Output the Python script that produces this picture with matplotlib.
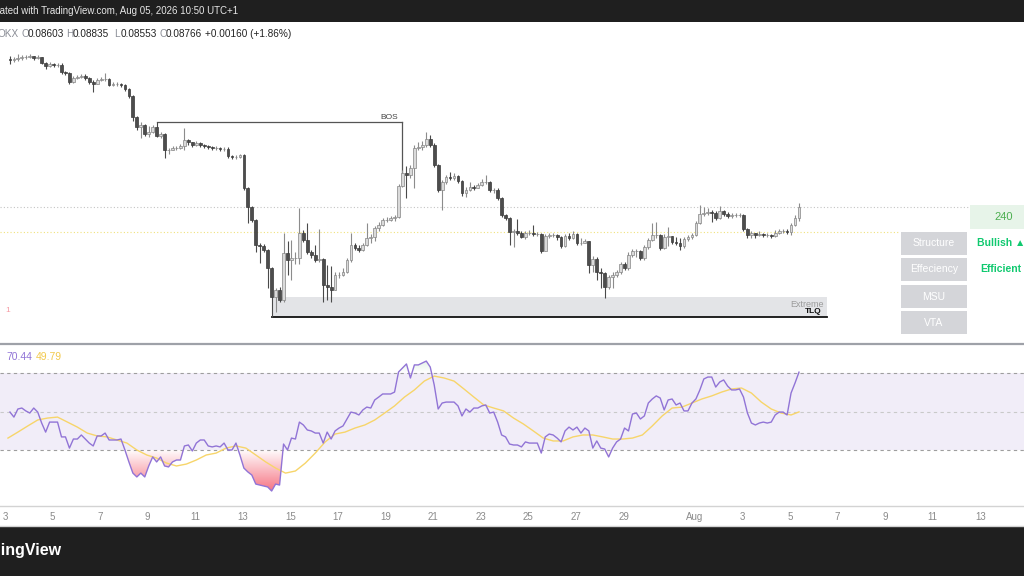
import numpy as np
import matplotlib
matplotlib.use("Agg")
import matplotlib.pyplot as plt
import matplotlib.dates as mdates
from matplotlib.patches import Rectangle
from matplotlib.lines import Line2D
from matplotlib.path import Path
from datetime import datetime, timedelta

plt.rcParams["font.family"] = ["Liberation Sans", "DejaVu Sans"]

W, H = 1024, 576

LAST_BAR = datetime(2026, 8, 5, 9, 0)
BAR = timedelta(hours=4)

# 4h candles, prices in 1e-5 units
FIRST_OPEN = 11142
CLOSE = [11126, 11142, 11158, 11174, 11174, 11190, 11158, 11174, 11078, 11030,
         11062, 11046, 11046, 10934, 10918, 10774, 10838, 10854, 10870, 10838,
         10774, 10742, 10806, 10822, 10822, 10726, 10742, 10742, 10726, 10662,
         10550, 10214, 10054, 10086, 9942, 9974, 10054, 9910, 9942, 9686,
         9686, 9718, 9718, 9750, 9846, 9814, 9766, 9798, 9766, 9750,
         9734, 9718, 9718, 9702, 9702, 9590, 9574, 9574, 9606, 9078,
         8774, 8566, 8166, 8150, 8086, 7798, 7334, 7446, 7286, 8038,
         7926, 7958, 7958, 8358, 8246, 8054, 8006, 7926, 7942, 7526,
         7494, 7446, 7686, 7686, 7734, 7926, 8166, 8118, 8086, 8166,
         8278, 8294, 8438, 8486, 8566, 8566, 8598, 8614, 9110, 9318,
         9286, 9398, 9718, 9734, 9766, 9862, 9766, 9446, 9046, 9174,
         9254, 9238, 9270, 9190, 8998, 9046, 9094, 9078, 9126, 9174,
         9174, 9046, 9046, 8918, 8646, 8598, 8374, 8390, 8358, 8294,
         8358, 8358, 8342, 8342, 8070, 8310, 8326, 8326, 8294, 8150,
         8310, 8278, 8342, 8198, 8198, 8230, 7846, 7942, 7734, 7718,
         7494, 7654, 7686, 7734, 7862, 7798, 8006, 8070, 8070, 7958,
         8134, 8246, 8326, 8326, 8118, 8294, 8310, 8214, 8198, 8150,
         8262, 8294, 8326, 8518, 8662, 8678, 8694, 8678, 8598, 8710,
         8662, 8630, 8646, 8646, 8646, 8422, 8326, 8358, 8326, 8342,
         8326, 8326, 8310, 8358, 8390, 8390, 8374, 8486, 8603, 8766]
HIGH = [11190, 11174, 11222, 11206, 11206, 11222, 11190, 11206, 11174, 11094,
        11094, 11078, 11078, 11078, 10950, 10934, 10870, 10886, 10902, 10902,
        10854, 10806, 10838, 10854, 10918, 10838, 10774, 10774, 10758, 10742,
        10678, 10566, 10230, 10134, 10102, 10070, 10086, 10134, 9974, 9958,
        9718, 9750, 9750, 9782, 10038, 9862, 9814, 9830, 9814, 9782,
        9766, 9750, 9750, 9734, 9734, 9734, 9606, 9606, 9622, 9622,
        9094, 8790, 8582, 8198, 8182, 8102, 7814, 7478, 7494, 8358,
        8230, 8246, 8054, 8758, 8406, 8518, 8086, 8166, 8422, 7958,
        7846, 7830, 7734, 7734, 7798, 7958, 8358, 8198, 8166, 8198,
        8518, 8342, 8470, 8534, 8598, 8614, 8630, 8646, 9142, 9366,
        9430, 9446, 9766, 9814, 9830, 9974, 9926, 9798, 9462, 9206,
        9286, 9334, 9318, 9286, 9206, 9094, 9174, 9126, 9158, 9222,
        9286, 9190, 9078, 9078, 8934, 8662, 8614, 8422, 8582, 8390,
        8390, 8406, 8486, 8374, 8358, 8342, 8358, 8358, 8342, 8310,
        8342, 8358, 8390, 8358, 8278, 8262, 8230, 7990, 7974, 7798,
        7734, 7686, 7734, 7766, 7894, 7894, 8054, 8102, 8102, 8086,
        8166, 8278, 8518, 8534, 8342, 8342, 8454, 8310, 8294, 8278,
        8294, 8326, 8358, 8550, 8806, 8774, 8758, 8726, 8710, 8790,
        8726, 8694, 8678, 8678, 8678, 8662, 8438, 8390, 8358, 8390,
        8358, 8358, 8342, 8406, 8422, 8422, 8422, 8518, 8646, 8835]
LOW = [11062, 11094, 11110, 11126, 11142, 11158, 11126, 11142, 11062, 10982,
       11014, 11014, 11014, 10902, 10886, 10742, 10758, 10822, 10838, 10806,
       10742, 10614, 10742, 10790, 10790, 10710, 10710, 10710, 10694, 10630,
       10518, 10150, 10006, 9878, 9910, 9894, 9958, 9894, 9878, 9558,
       9622, 9686, 9686, 9702, 9686, 9766, 9734, 9750, 9734, 9718,
       9702, 9686, 9686, 9670, 9670, 9558, 9542, 9542, 9558, 9046,
       8518, 8534, 8054, 7878, 8054, 7478, 7014, 7094, 7254, 7254,
       7686, 7606, 7862, 7862, 8214, 8022, 7958, 7894, 7894, 7254,
       7286, 7254, 7446, 7638, 7670, 7718, 7894, 8086, 8054, 8070,
       8150, 8198, 8230, 8390, 8470, 8534, 8550, 8550, 8598, 9094,
       8918, 9238, 9078, 9686, 9686, 9734, 9734, 9414, 9014, 8726,
       9142, 9206, 9206, 9158, 8950, 8934, 9030, 9046, 9078, 9110,
       9142, 9014, 8998, 8886, 8614, 8566, 8166, 8134, 8326, 8278,
       8262, 8326, 8310, 8310, 8038, 8086, 8278, 8294, 8246, 8118,
       8134, 8246, 8262, 8166, 8166, 8198, 7718, 7734, 7606, 7478,
       7318, 7462, 7478, 7654, 7702, 7766, 7766, 7974, 7974, 7926,
       7926, 8102, 8230, 8278, 8086, 8102, 8150, 8182, 8166, 8086,
       8118, 8230, 8262, 8310, 8502, 8630, 8646, 8534, 8566, 8582,
       8630, 8598, 8598, 8614, 8614, 8390, 8278, 8278, 8278, 8310,
       8294, 8294, 8278, 8294, 8342, 8358, 8342, 8326, 8470, 8553]

RSI = [49.7, 47.1, 51.3, 51.8, 50.3, 49.2, 51.8, 49.7, 44.0, 39.3,
       44.5, 44.5, 44.5, 36.8, 36.8, 31.0, 35.7, 35.7, 37.8, 35.7,
       33.6, 32.1, 37.3, 37.3, 38.8, 35.2, 35.2, 35.2, 35.7, 30.0,
       23.8, 18.0, 16.0, 18.0, 16.0, 21.7, 26.4, 23.8, 26.4, 21.7,
       21.2, 23.8, 24.8, 24.8, 32.1, 32.6, 29.5, 33.6, 35.2, 35.2,
       32.1, 31.6, 32.1, 31.6, 33.6, 30.0, 30.0, 33.6, 27.4, 20.6,
       18.6, 17.0, 12.3, 11.8, 11.3, 10.8, 8.7, 12.3, 11.8, 33.1,
       30.0, 36.2, 35.7, 44.5, 43.0, 40.4, 39.9, 38.8, 38.8, 33.6,
       39.3, 35.7, 39.9, 41.4, 42.5, 46.1, 49.7, 49.2, 48.2, 50.8,
       52.3, 51.8, 56.0, 57.5, 59.1, 59.1, 59.1, 60.1, 70.5, 72.6,
       74.7, 67.4, 74.2, 74.2, 75.2, 76.2, 73.1, 63.8, 51.3, 54.4,
       54.9, 54.9, 54.9, 52.9, 47.7, 51.3, 49.7, 51.8, 51.8, 52.9,
       53.4, 49.2, 49.7, 44.5, 37.8, 36.8, 33.1, 32.6, 32.6, 31.6,
       34.2, 33.6, 33.6, 33.6, 28.4, 36.8, 38.3, 37.8, 36.2, 34.2,
       39.9, 41.9, 40.4, 41.9, 38.8, 41.4, 39.9, 31.0, 34.7, 31.0,
       30.5, 26.4, 31.0, 34.2, 35.7, 41.4, 39.9, 48.7, 49.2, 46.1,
       47.7, 54.4, 56.5, 58.1, 57.0, 50.8, 56.0, 56.5, 53.4, 54.4,
       50.3, 50.3, 54.4, 56.5, 61.2, 66.9, 67.9, 67.9, 62.7, 65.3,
       66.4, 63.2, 61.2, 61.2, 61.7, 57.5, 49.2, 44.0, 43.0, 44.0,
       44.5, 44.0, 44.5, 48.2, 49.7, 49.7, 48.2, 59.6, 64.8, 70.44]

# RSI moving average, read every 2.5 bars (bar positions below)
RSI_MA_POS = list(np.arange(80) * 2.5 - 0.5) + [199]
RSI_MA = [36.2, 39.3, 42.5, 45.6, 46.6, 47.1, 44.5, 41.9, 38.8, 37.3,
          36.8, 35.2, 33.6, 30.0, 27.4, 25.8, 23.2, 21.7, 22.7, 24.8,
          27.4, 28.4, 31.0, 32.1, 31.0, 27.4, 23.8, 20.6, 18.0, 19.1,
          23.2, 28.4, 34.2, 38.3, 39.3, 41.4, 43.0, 45.6, 49.2, 52.9,
          57.5, 61.2, 65.8, 68.4, 67.4, 65.8, 61.7, 57.5, 53.4, 51.8,
          50.3, 46.6, 43.5, 39.9, 36.2, 34.7, 34.7, 36.8, 37.8, 37.8,
          36.8, 35.7, 35.7, 36.2, 37.8, 42.5, 47.7, 51.8, 52.3, 54.4,
          56.5, 58.1, 60.1, 61.7, 62.2, 59.6, 54.9, 51.3, 49.2, 48.2,
          49.79]

# annotations (bar index / price in 1e-5)
BOS_FROM, BOS_TO, BOS_LEVEL, BOS_DROP = 37, 99, 10134, 9206
EXT_FROM, EXT_BARS_AFTER, EXT_TOP, EXT_BOTTOM = 66, 7, 7334, 7014
LEVEL_GRAY, LEVEL_YELLOW = 8774, 8374
CHANGE, CHANGE_PCT = 0.00160, 1.86

TABLE_ROWS = ["Structure", "Effeciency", "MSU", "VTA"]
TABLE_VALUES = ["Bullish \u25B2", "Efficient", "", ""]
TIMEFRAME = "240"

X_TICKS = [datetime(2026, 7, d) for d in range(3, 30, 2)] + \
          [datetime(2026, 8, 1)] + [datetime(2026, 8, d) for d in range(3, 14, 2)]
X_LABELS = [str(d.day) if d.day != 1 else "Aug" for d in X_TICKS]


def fy(y):
    return 1 - y / H


def fx(x):
    return x / W


def bar_time(i):
    return mdates.date2num(LAST_BAR - (len(CLOSE) - 1 - i) * BAR)


def gradient_fill(ax, x, y, level, below, rgb, amax, lo, hi):
    if below:
        coll = ax.fill_between(x, y, level, where=y <= level, interpolate=True,
                               facecolor="none", edgecolor="none")
    else:
        coll = ax.fill_between(x, y, level, where=y >= level, interpolate=True,
                               facecolor="none", edgecolor="none")
    paths = [p for p in coll.get_paths() if len(p.vertices)]
    if not paths:
        return
    clip = Path.make_compound_path(*paths)
    v = np.linspace(lo, hi, 256)
    if below:
        a = np.clip((level - v) / (level - lo), 0, 1) * amax
    else:
        a = np.clip((v - level) / (hi - level), 0, 1) * amax
    img = np.zeros((256, 1, 4))
    img[:, 0, :3] = rgb
    img[:, 0, 3] = a
    im = ax.imshow(img, extent=[x.min(), x.max(), lo, hi], origin="lower",
                   aspect="auto", zorder=2, interpolation="bilinear")
    im.set_clip_path(clip, transform=ax.transData)


def main():
    n = len(CLOSE)
    close = np.array(CLOSE) / 1e5
    high = np.array(HIGH) / 1e5
    low = np.array(LOW) / 1e5
    opn = np.concatenate([[FIRST_OPEN / 1e5], close[:-1]])
    t = np.array([bar_time(i) for i in range(n)])
    bw = BAR.total_seconds() / 86400 * 0.7

    xmin = mdates.date2num(datetime(2026, 7, 3)) - 5 / 23.79
    xmax = xmin + W / 23.79

    fig = plt.figure(figsize=(W / 100, H / 100), dpi=100)
    fig.patch.set_facecolor("white")

    ax = fig.add_axes([0, fy(343), 1, (343 - 22) / H])
    rx = fig.add_axes([0, fy(505), 1, (505 - 345) / H])
    for a in (ax, rx):
        for s in a.spines.values():
            s.set_visible(False)
        a.set_facecolor("white")

    # ---- price pane ----
    ax.axhline(LEVEL_GRAY / 1e5, xmax=970 / W, color="#c4c4c4", lw=0.8,
               ls=(0, (1, 2)), zorder=1)
    ax.axhline(LEVEL_YELLOW / 1e5, xmax=900 / W, color="#f1e27c", lw=0.8,
               ls=(0, (1, 2)), zorder=1)

    ext_l = t[EXT_FROM]
    ext_r = t[-1] + EXT_BARS_AFTER * BAR.total_seconds() / 86400
    ax.add_patch(Rectangle((ext_l, EXT_BOTTOM / 1e5), ext_r - ext_l,
                           (EXT_TOP - EXT_BOTTOM) / 1e5, facecolor="#e3e4e7",
                           edgecolor="none", zorder=1))
    ax.plot([ext_l, ext_r], [EXT_BOTTOM / 1e5] * 2, color="#111111", lw=1.3, zorder=3)
    ax.annotate("Extreme", (ext_r, EXT_TOP / 1e5), xytext=(-3, -3),
                textcoords="offset pixels", ha="right", va="top",
                fontsize=6.5, color="#9b9b9b", zorder=4)
    ax.annotate("TLQ", (ext_r, EXT_BOTTOM / 1e5), xytext=(-5, 2),
                textcoords="offset pixels", ha="right", va="bottom",
                fontsize=6, color="#111111", fontweight="bold", zorder=4)

    bos_l, bos_r = t[BOS_FROM], t[BOS_TO]
    ax.plot([bos_l, bos_r], [BOS_LEVEL / 1e5] * 2, color="#555555", lw=0.9, zorder=3)
    ax.plot([bos_r, bos_r], [BOS_LEVEL / 1e5, BOS_DROP / 1e5], color="#555555",
            lw=0.9, zorder=3)
    ax.annotate("BOS", (bos_r, BOS_LEVEL / 1e5), xytext=(-13, 1),
                textcoords="offset pixels", ha="center", va="bottom",
                fontsize=6, color="#444444", zorder=4)

    up = close >= opn
    body_lo = np.minimum(opn, close)
    body_hi = np.maximum(opn, close)
    wick_hi = np.maximum(high, body_hi)
    wick_lo = np.minimum(low, body_lo)
    heights = np.maximum(body_hi - body_lo, 0.00004)
    ax.vlines(t[up], wick_lo[up], wick_hi[up], color="#8c8c8c", lw=0.8, zorder=4)
    ax.vlines(t[~up], wick_lo[~up], wick_hi[~up], color="#4a4a4a", lw=0.8, zorder=4)
    ax.bar(t[up], heights[up], bottom=body_lo[up], width=bw, color="#dadada",
           edgecolor="#858585", linewidth=0.5, zorder=5)
    ax.bar(t[~up], heights[~up], bottom=body_lo[~up], width=bw, color="#4d4d4d",
           edgecolor="#3a3a3a", linewidth=0.5, zorder=5)

    ax.set_xlim(xmin, xmax)
    ax.set_ylim(0.12086 - 0.00016 * 343, 0.12086 - 0.00016 * 22)
    ax.set_xticks([])
    ax.set_yticks([])

    # ---- RSI pane ----
    rsi = np.array(RSI)
    ma_t = np.array([mdates.date2num(LAST_BAR) - (n - 1 - p) * BAR.total_seconds() / 86400
                     for p in RSI_MA_POS])
    rx.axhspan(30, 70, color="#7e57c2", alpha=0.1, lw=0, zorder=0)
    rx.axhline(70, color="#9e9e9e", lw=0.8, ls=(0, (3, 3)), zorder=1)
    rx.axhline(50, color="#c9c9c9", lw=0.8, ls=(0, (3, 3)), zorder=1)
    rx.axhline(30, color="#9e9e9e", lw=0.8, ls=(0, (3, 3)), zorder=1)
    gradient_fill(rx, t, rsi, 30, True, (0.95, 0.25, 0.33), 0.85, 5, 30)
    gradient_fill(rx, t, rsi, 70, False, (0.3, 0.7, 0.4), 0.5, 70, 90)
    rx.plot(ma_t, RSI_MA, color="#f7d56a", lw=1.0, zorder=3)
    rx.plot(t, rsi, color="#9174d6", lw=1.0, zorder=4)
    rx.set_xlim(xmin, xmax)
    rx.set_ylim(30 - (505 - 450) / 1.925, 70 + (373 - 345) / 1.925)
    rx.set_yticks([])
    rx.set_xticks([mdates.date2num(d) for d in X_TICKS])
    rx.set_xticklabels(X_LABELS)
    rx.tick_params(axis="x", length=0, pad=5, labelsize=7, labelcolor="#8a8a8a")

    fig.text(fx(6), fy(357), f"{RSI[-1]:.2f}", color="#9174d6", fontsize=7.5,
             va="center", ha="left")
    fig.text(fx(36), fy(357), f"{RSI_MA[-1]:.2f}", color="#f2c94c", fontsize=7.5,
             va="center", ha="left")
    fig.text(fx(5), fy(310), "1", color="#f59aa3", fontsize=6, va="center", ha="left")

    # ---- frame: bars and separators ----
    fig.add_artist(Rectangle((0, fy(22)), 1, 22 / H, transform=fig.transFigure,
                             facecolor="#1f1f1f", edgecolor="none"))
    fig.add_artist(Rectangle((0, 0), 1, (H - 527) / H, transform=fig.transFigure,
                             facecolor="#1f1f1f", edgecolor="none"))
    fig.add_artist(Line2D([0, 1], [fy(344)] * 2, transform=fig.transFigure,
                          color="#9ea1a8", lw=1.6))
    fig.add_artist(Line2D([0, 1], [fy(506)] * 2, transform=fig.transFigure,
                          color="#d3d3d3", lw=1.0))
    fig.add_artist(Line2D([0, 1], [fy(526)] * 2, transform=fig.transFigure,
                          color="#d3d3d3", lw=1.0))

    fig.text(fx(238), fy(11), "Created with TradingView.com, Aug 05, 2026 10:50 UTC+1",
             color="#e6e6e6", fontsize=7.0, ha="right", va="center")
    fig.text(fx(62), fy(551), "TradingView", color="white", fontsize=11.5,
             fontweight="bold", ha="right", va="center")

    # ---- header OHLC ----
    gray, dark = "#8a8d96", "#222222"
    hy = fy(34)
    fig.text(fx(-3), hy, "OKX", color=gray, fontsize=7.2, va="center")
    parts = [("O", opn[-1], 21), ("H", high[-1], 66), ("L", low[-1], 114), ("C", close[-1], 159)]
    for lab, val, px in parts:
        fig.text(fx(px), hy, lab, color=gray, fontsize=7.2, va="center")
        fig.text(fx(px + 7), hy, f"{val:.5f}", color=dark, fontsize=7.2, va="center")
    fig.text(fx(205), hy, f"+{CHANGE:.5f} (+{CHANGE_PCT:.2f}%)", color=dark,
             fontsize=7.2, va="center")

    # ---- info table ----
    fig.add_artist(Rectangle((fx(970), fy(229)), fx(60), 24 / H, transform=fig.transFigure,
                             facecolor="#e7f4e9", edgecolor="none"))
    fig.text(fx(1004), fy(217), TIMEFRAME, color="#4caf50", fontsize=8,
             ha="center", va="center")
    row_top = [232, 258, 285, 311]
    for name, val, top in zip(TABLE_ROWS, TABLE_VALUES, row_top):
        fig.add_artist(Rectangle((fx(901), fy(top + 23)), fx(66), 23 / H,
                                 transform=fig.transFigure, facecolor="#d4d5d9",
                                 edgecolor="none"))
        fig.text(fx(934), fy(top + 11.5), name, color="white", fontsize=7.5,
                 ha="center", va="center")
        if val:
            fig.text(fx(1001), fy(top + 11.5), val, color="#10c96f", fontsize=7.5,
                     ha="center", va="center", fontweight="bold")

    fig.savefig("out.png", dpi=100)


if __name__ == "__main__":
    main()
